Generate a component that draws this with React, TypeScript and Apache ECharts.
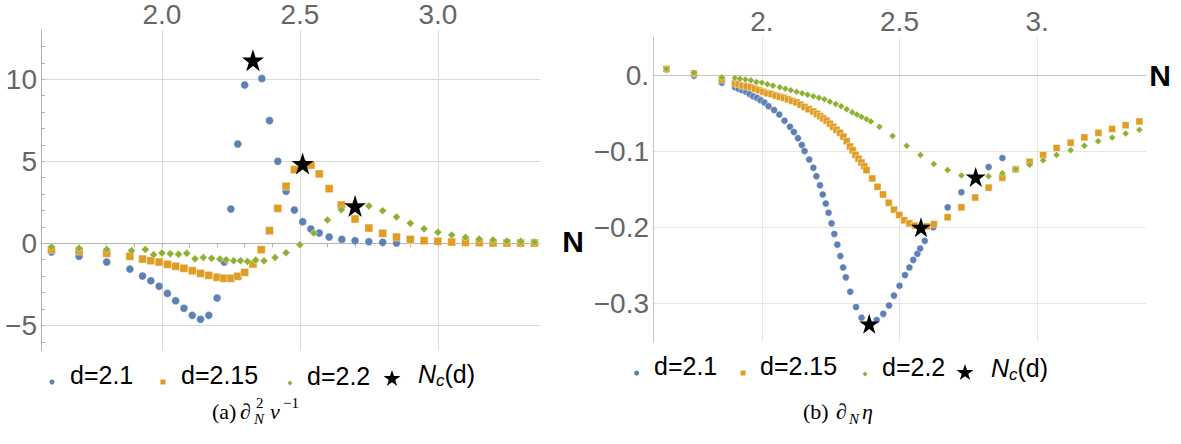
import React, { useEffect, useRef } from "react";
import * as echarts from "echarts";

// ---------- data: panel (a) ----------
const blueA: number[][] = [
  [1.60, -0.53], [1.70, -0.79], [1.80, -1.14], [1.884, -1.57], [1.93, -1.99], [1.96, -2.28], [1.99, -2.62],
  [2.02, -3.05], [2.05, -3.50], [2.08, -3.96], [2.11, -4.39], [2.14, -4.63], [2.17, -4.39], [2.20, -3.33],
  [2.226, -1.14], [2.25, 2.09], [2.275, 6.05], [2.30, 9.65], [2.33, 11.1], [2.362, 10.04], [2.39, 7.48],
  [2.42, 5.0], [2.45, 3.17], [2.48, 2.03], [2.51, 1.32], [2.54, 0.87], [2.57, 0.63], [2.606, 0.39],
  [2.652, 0.24], [2.70, 0.16], [2.75, 0.10], [2.80, 0.06], [2.85, 0.02],
];
const orangeA: number[][] = [
  [1.60, -0.37], [1.70, -0.47], [1.80, -0.61], [1.884, -0.79], [1.93, -0.96], [1.96, -1.06], [1.99, -1.14],
  [2.02, -1.28], [2.05, -1.40], [2.08, -1.52], [2.11, -1.67], [2.14, -1.83], [2.17, -1.95], [2.20, -2.07],
  [2.225, -2.13], [2.25, -2.13], [2.275, -2.01], [2.30, -1.77], [2.33, -1.26], [2.36, -0.39], [2.39, 0.77],
  [2.42, 2.13], [2.45, 3.48], [2.48, 4.49], [2.51, 4.85], [2.54, 4.77], [2.57, 4.23], [2.606, 3.33],
  [2.65, 2.34], [2.70, 1.48], [2.75, 0.93], [2.80, 0.61], [2.85, 0.38], [2.90, 0.24], [2.95, 0.16],
  [3.00, 0.12], [3.05, 0.08], [3.10, 0.06], [3.15, 0.04], [3.20, 0.02], [3.25, 0.02], [3.30, 0.02], [3.35, 0.02],
];
const greenA: number[][] = [
  [1.60, -0.22], [1.70, -0.30], [1.80, -0.37], [1.89, -0.45], [1.94, -0.37], [1.97, -0.69], [2.00, -0.59],
  [2.03, -0.63], [2.06, -0.67], [2.09, -0.61], [2.12, -0.94], [2.15, -0.87], [2.18, -0.91], [2.21, -0.96],
  [2.233, -1.0], [2.26, -1.06], [2.285, -1.06], [2.31, -1.10], [2.34, -1.02], [2.37, -1.06], [2.41, -0.87],
  [2.45, -0.57], [2.50, -0.08], [2.55, 0.63], [2.60, 1.42], [2.65, 2.05], [2.70, 2.30], [2.75, 2.28],
  [2.80, 1.99], [2.85, 1.61], [2.90, 1.22], [2.95, 0.89], [3.00, 0.67], [3.05, 0.51], [3.10, 0.37],
  [3.15, 0.26], [3.20, 0.20], [3.25, 0.14], [3.30, 0.12], [3.35, 0.08],
];
const starsA: number[][] = [[2.33, 11.16], [2.51, 4.86], [2.70, 2.28]];

// ---------- data: panel (b) ----------
const blueB: number[][] = [
  [1.653, 0.007], [1.753, -0.001], [1.854, -0.010],
  [1.902, -0.016], [1.915, -0.018], [1.928, -0.020], [1.942, -0.022], [1.955, -0.025], [1.968, -0.028],
  [1.982, -0.030], [1.995, -0.033], [2.009, -0.036], [2.024, -0.041], [2.044, -0.046], [2.063, -0.052],
  [2.082, -0.060], [2.102, -0.068], [2.116, -0.075], [2.131, -0.083], [2.145, -0.092], [2.155, -0.100],
  [2.172, -0.111], [2.187, -0.122], [2.198, -0.133], [2.211, -0.145], [2.221, -0.157], [2.232, -0.169],
  [2.242, -0.181], [2.253, -0.195], [2.263, -0.209], [2.274, -0.223], [2.285, -0.238], [2.295, -0.253],
  [2.305, -0.266], [2.321, -0.285], [2.342, -0.305], [2.362, -0.319], [2.39, -0.326], [2.417, -0.322],
  [2.441, -0.314], [2.462, -0.303], [2.48, -0.290], [2.50, -0.277], [2.52, -0.263], [2.536, -0.253],
  [2.55, -0.243], [2.565, -0.235], [2.575, -0.228], [2.592, -0.218], [2.623, -0.200], [2.675, -0.174],
  [2.725, -0.154], [2.775, -0.137], [2.824, -0.121], [2.874, -0.109],
];
const orangeB: number[][] = [
  [1.653, 0.008], [1.753, 0.002], [1.854, -0.006],
  [1.902, -0.011], [1.915, -0.012], [1.93, -0.014], [1.945, -0.015], [1.96, -0.016], [1.975, -0.018],
  [1.99, -0.020], [2.005, -0.022], [2.02, -0.024], [2.035, -0.025], [2.05, -0.027], [2.065, -0.0285],
  [2.08, -0.030], [2.095, -0.032], [2.11, -0.034], [2.126, -0.036], [2.14, -0.039], [2.155, -0.042],
  [2.17, -0.045], [2.187, -0.048], [2.20, -0.051], [2.212, -0.054], [2.223, -0.057], [2.235, -0.060],
  [2.247, -0.064], [2.259, -0.068], [2.271, -0.072], [2.284, -0.076], [2.296, -0.081], [2.308, -0.087],
  [2.32, -0.094], [2.33, -0.099], [2.34, -0.105], [2.351, -0.110], [2.362, -0.115], [2.372, -0.120],
  [2.38, -0.125], [2.401, -0.136], [2.42, -0.147], [2.44, -0.157], [2.461, -0.168], [2.48, -0.177],
  [2.499, -0.184], [2.517, -0.191], [2.536, -0.195], [2.556, -0.198], [2.578, -0.200], [2.60, -0.199],
  [2.625, -0.196], [2.675, -0.187], [2.725, -0.174], [2.775, -0.161], [2.824, -0.148], [2.874, -0.135],
  [2.922, -0.124], [2.973, -0.114], [3.022, -0.105], [3.071, -0.096], [3.122, -0.089], [3.172, -0.082],
  [3.223, -0.076], [3.273, -0.071], [3.322, -0.066], [3.372, -0.061],
];
const greenB: number[][] = [
  [1.653, 0.008], [1.753, 0.003], [1.854, -0.003],
  [1.902, -0.004], [1.92, -0.005], [1.94, -0.006], [1.96, -0.007], [1.98, -0.009], [2.00, -0.010],
  [2.02, -0.012], [2.04, -0.014], [2.065, -0.016], [2.085, -0.018], [2.105, -0.020], [2.126, -0.022],
  [2.146, -0.024], [2.166, -0.026], [2.187, -0.028], [2.207, -0.030], [2.227, -0.032], [2.247, -0.035],
  [2.268, -0.038], [2.288, -0.041], [2.308, -0.045], [2.328, -0.049], [2.345, -0.052], [2.362, -0.055],
  [2.38, -0.058], [2.396, -0.061], [2.427, -0.068], [2.475, -0.080], [2.526, -0.093], [2.576, -0.105],
  [2.625, -0.117], [2.675, -0.125], [2.725, -0.132], [2.775, -0.134], [2.824, -0.133], [2.874, -0.129],
  [2.922, -0.124], [2.973, -0.118], [3.022, -0.112], [3.071, -0.105], [3.122, -0.099], [3.172, -0.093],
  [3.222, -0.087], [3.273, -0.082], [3.322, -0.077], [3.372, -0.072],
];
const starsB: number[][] = [[2.39, -0.327], [2.578, -0.200], [2.777, -0.134]];

// ---------- ticks ----------
const xMajor = [2.0, 2.5, 3.0];
const xMinorA = [1.6, 1.7, 1.8, 1.9, 2.0, 2.1, 2.2, 2.3, 2.4, 2.5, 2.6, 2.7, 2.8, 2.9, 3.0, 3.1, 3.2, 3.3];
const yMajorA = [-5, 0, 5, 10];
const yMinorA = [-6, -5, -4, -3, -2, -1, 0, 1, 2, 3, 4, 5, 6, 7, 8, 9, 10, 11, 12];
const yMajorB = [-0.3, -0.2, -0.1, 0];

const NAMES = ["d=2.1", "d=2.15", "d=2.2", "Nc(d)"];
const COLORS = ["#5E81B5", "#E19C24", "#8FB032", "#000000"];
const STAR =
  "path://M0,-10L2.245,-3.09L9.511,-3.09L3.633,1.18L5.878,8.09L0,3.82L-5.878,8.09L-3.633,1.18L-9.511,-3.09L-2.245,-3.09Z";

const LABEL_FONT = "Liberation Sans";
const minus = (s: string) => s.replace("-", "\u2212");

function App() {
  const ref = useRef<HTMLDivElement>(null);
  useEffect(() => {
    if (!ref.current) return;
    const chart = echarts.init(ref.current, null, { renderer: "svg" });

    const axisLabelStyle = { fontSize: 28, color: "#666", fontFamily: LABEL_FONT };

    const scat = (name: string, data: number[][], xi: number, yi: number, sym: string, size: number, color: string, z: number) => ({
      type: "scatter",
      name,
      xAxisIndex: xi,
      yAxisIndex: yi,
      data,
      symbol: sym,
      symbolSize: size,
      z,
      itemStyle: { color, opacity: 1, borderColor: color === "#000000" ? color : "rgba(255,255,255,0.55)", borderWidth: color === "#000000" ? 0 : 0.8 },
      emphasis: { disabled: true },
    });

    const rich = {
      n: { fontStyle: "italic", fontSize: 25, fontFamily: LABEL_FONT, color: "#000", lineHeight: 30 },
      c: { fontStyle: "italic", fontSize: 17, fontFamily: LABEL_FONT, color: "#000", verticalAlign: "bottom", lineHeight: 12 },
      t: { fontSize: 25, fontFamily: LABEL_FONT, color: "#000", lineHeight: 30 },
    };
    const legendItem = (name: string, icon: string, size: number, left: number, top: number, pad: number[]) => ({
      left,
      top,
      padding: 0,
      itemWidth: size,
      itemHeight: size,
      itemGap: 0,
      selectedMode: false,
      data: [{ name, icon }],
      itemStyle: { borderWidth: 0 },
      formatter: (n: string) => (n === "Nc(d)" ? "{n|N}{c|c}{t|(d)}" : n),
      textStyle: { fontSize: 25, fontFamily: LABEL_FONT, color: "#000", padding: pad, rich },
    });

    const capText = (text: string, x: number, y: number, size: number, italic = false) => ({
      type: "text",
      x,
      y,
      style: {
        text,
        fontSize: size,
        fontFamily: "Liberation Serif",
        fontStyle: italic ? "italic" : "normal",
        fill: "#000",
        verticalAlign: "middle",
      },
    });

    const capY = 411;

    chart.setOption({
      animation: false,
      backgroundColor: "#fff",
      grid: [
        { left: 41, top: 29, width: 499, height: 321 },
        { left: 653, top: 37, width: 493, height: 305 },
      ],
      xAxis: [
        {
          type: "value", gridIndex: 0, position: "top", min: 1.562, max: 3.37,
          axisLine: { show: true, lineStyle: { color: "#b4b4b4", width: 1 } },
          axisTick: { show: false, customValues: xMajor },
          axisLabel: { customValues: xMajor, formatter: (v: number) => v.toFixed(1), margin: 2, ...axisLabelStyle },
          splitLine: { show: true, lineStyle: { color: "#d9d9d9", width: 1 } },
        },
        {
          type: "value", gridIndex: 0, position: "top", offset: 0, min: 1.562, max: 3.37,
          axisLine: { show: false },
          axisTick: { show: true, inside: true, length: 4, customValues: xMinorA, lineStyle: { color: "#b4b4b4" } },
          axisLabel: { show: false },
          splitLine: { show: false },
        },
        {
          type: "value", gridIndex: 1, position: "top", min: 1.604, max: 3.396,
          axisLine: { show: true, lineStyle: { color: "#c4c4c4", width: 1 } },
          axisTick: { show: false, customValues: xMajor },
          axisLabel: {
            customValues: xMajor, margin: 2, ...axisLabelStyle,
            formatter: (v: number) => (Number.isInteger(v) ? v + "." : String(v)),
          },
          splitLine: { show: true, lineStyle: { color: "#e6e6e6", width: 1 } },
        },
      ],
      yAxis: [
        {
          type: "value", gridIndex: 0, position: "left", min: -6.5, max: 13,
          axisLine: { show: true, lineStyle: { color: "#b4b4b4", width: 1 } },
          axisTick: { show: false, customValues: yMajorA },
          axisLabel: { customValues: yMajorA, formatter: (v: number) => minus(String(v)), margin: 4, ...axisLabelStyle },
          splitLine: { show: true, lineStyle: { color: "#d9d9d9", width: 1 } },
        },
        {
          type: "value", gridIndex: 0, position: "left", offset: 0, min: -6.5, max: 13,
          axisLine: { show: false },
          axisTick: { show: true, inside: true, length: 4, customValues: yMinorA, lineStyle: { color: "#b4b4b4" } },
          axisLabel: { show: false },
          splitLine: { show: false },
        },
        {
          type: "value", gridIndex: 1, position: "left", min: -0.351, max: 0.05,
          axisLine: { show: true, lineStyle: { color: "#c4c4c4", width: 1 } },
          axisTick: { show: false, customValues: yMajorB },
          axisLabel: {
            customValues: yMajorB, margin: 4, ...axisLabelStyle,
            formatter: (v: number) => (v === 0 ? "0." : minus(v.toFixed(1))),
          },
          splitLine: { show: true, lineStyle: { color: "#e6e6e6", width: 1 } },
        },
      ],
      legend: [
        legendItem(NAMES[0], "circle", 5, 49.5, 362.5, [0, 0, 14, 10.5]),
        legendItem(NAMES[1], "rect", 5, 160.5, 362.5, [0, 0, 14, 10.5]),
        legendItem(NAMES[2], "diamond", 5, 287.5, 363.5, [0, 0, 14, 9.5]),
        legendItem(NAMES[3], STAR, 17, 383.5, 361.5, [0, 0, 8, 12.5]),
        legendItem(NAMES[0], "circle", 5, 634.2, 353.5, [0, 0, 14, 9.8]),
        legendItem(NAMES[1], "rect", 5, 740.5, 353.5, [0, 0, 14, 9.5]),
        legendItem(NAMES[2], "diamond", 5, 862.5, 354.5, [0, 0, 14, 9.5]),
        legendItem(NAMES[3], STAR, 17, 956.5, 355.5, [0, 0, 8, 12.5]),
      ],
      graphic: [
        { type: "text", x: 573, y: 241, style: { text: "N", fontSize: 30, fontWeight: "bold", fontFamily: LABEL_FONT, fill: "#000", align: "center", verticalAlign: "middle" } },
        { type: "text", x: 1160, y: 75, style: { text: "N", fontSize: 30, fontWeight: "bold", fontFamily: LABEL_FONT, fill: "#000", align: "center", verticalAlign: "middle" } },
        capText("(a)", 212, capY, 22),
        capText("\u2202", 240, capY, 22),
        capText("2", 256, capY - 8, 15),
        capText("N", 254, capY + 8, 15, true),
        capText("\u03bd", 270, capY, 22, true),
        capText("\u22121", 283, capY - 8, 15),
        capText("(b)", 803, capY, 22),
        capText("\u2202", 836, capY, 22),
        capText("N", 849, capY + 8, 15, true),
        capText("\u03b7", 862, capY, 22, true),
      ],
      series: [
        scat(NAMES[0], blueA, 0, 0, "circle", 8, COLORS[0], 2),
        scat(NAMES[1], orangeA, 0, 0, "rect", 8, COLORS[1], 3),
        scat(NAMES[2], greenA, 0, 0, "diamond", 8, COLORS[2], 4),
        scat(NAMES[3], starsA, 0, 0, STAR, 22, COLORS[3], 5),
        scat(NAMES[0], blueB, 2, 2, "circle", 7, COLORS[0], 2),
        scat(NAMES[1], orangeB, 2, 2, "rect", 7, COLORS[1], 3),
        scat(NAMES[2], greenB, 2, 2, "diamond", 7, COLORS[2], 4),
        scat(NAMES[3], starsB, 2, 2, STAR, 20, COLORS[3], 5),
      ],
    });
    return () => chart.dispose();
  }, []);
  return <div ref={ref} style={{ position: "absolute", left: 0, top: 0, width: 1181, height: 444 }} />;
}

export default App;
